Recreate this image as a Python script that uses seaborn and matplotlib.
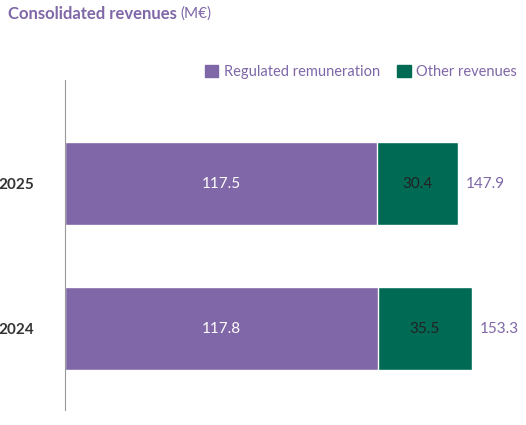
import matplotlib
matplotlib.use("Agg")
import matplotlib.pyplot as plt
import seaborn as sns
import pandas as pd
from matplotlib.patches import Patch

years = ["2025", "2024"]
regulated = [117.5, 117.8]
other = [30.4, 35.5]
totals = [147.9, 153.3]

purple = "#7f67a8"
green = "#006a55"
sns.set_style("white")
plt.rcParams['font.family'] = ['Lato', 'DejaVu Sans']

df = pd.DataFrame({"year": years, "reg": regulated, "oth": other, "tot": totals})
fig = plt.figure(figsize=(5.26, 4.25), dpi=100)
ax = fig.add_axes([65/526, 15/425, 1 - 65/526, 330/425])
w = 83/145
sns.barplot(data=df, y="year", x="tot", color=green, saturation=1, width=w, ax=ax, orient="h")
sns.barplot(data=df, y="year", x="reg", color=purple, saturation=1, width=w, ax=ax, orient="h")
ax.set_xlim(0, (526-65)/2.655)
ax.set_ylim(1.562, -0.714)
for i in range(len(years)):
    ax.text(regulated[i]/2, i, f"{regulated[i]:.1f}", color="white", ha="center", va="center", fontsize=11)
    ax.text(regulated[i] + other[i]/2, i, f"{other[i]:.1f}", color="#222222", ha="center", va="center", fontsize=11)
    ax.text(totals[i] + 3, i, f"{totals[i]:.1f}", color=purple, ha="left", va="center", fontsize=11)
ax.set_xticks([])
ax.set_yticks(range(len(years)))
ax.set_yticklabels(years, fontsize=11, fontweight="bold", color="#333333")
ax.tick_params(axis="y", length=0, pad=22)
ax.set_xlabel(""); ax.set_ylabel("")
for s in ["top", "right", "bottom"]:
    ax.spines[s].set_visible(False)
ax.spines["left"].set_color("#999999")
ax.spines["left"].set_linewidth(0.8)

handles = [Patch(color=purple, label="Regulated remuneration"), Patch(color=green, label="Other revenues")]
fig.legend(handles=handles, loc="center right", bbox_to_anchor=(1.0, 72/425 and 1-72/425), ncol=2,
           frameon=False, handlelength=0.9, handleheight=0.9, handletextpad=0.4, columnspacing=1.2,
           labelcolor=purple, prop={"size": 10.5}, borderaxespad=0.2)
fig.text(8/526, 1-14/425, "Consolidated revenues", fontsize=12, fontweight="bold", color=purple, va="center")
fig.text(180/526, 1-14/425, "(M€)", fontsize=11, color=purple, va="center")
fig.savefig("out.png", dpi=100)
